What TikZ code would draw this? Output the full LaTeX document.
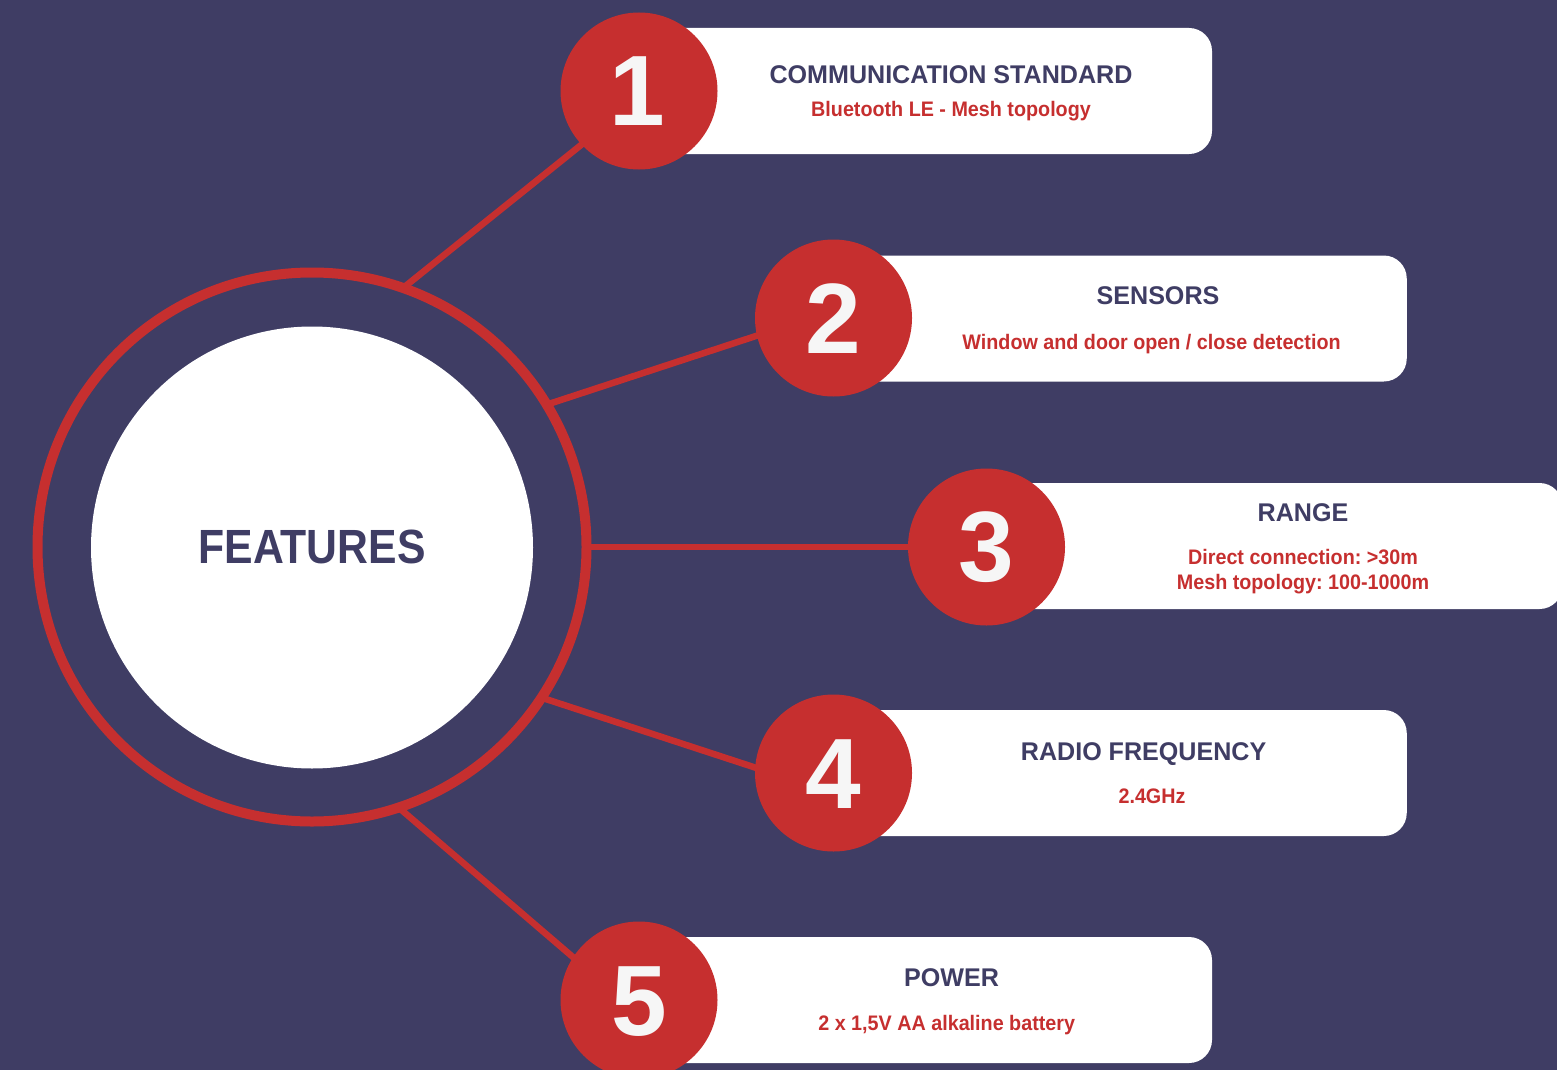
\documentclass[tikz,border=0pt]{standalone}
\usepackage{fontspec}
\setmainfont{Liberation Sans}
\newfontfamily\featfont[FakeStretch=0.89]{Liberation Sans}
\newfontfamily\titlefont[FakeStretch=0.98]{Liberation Sans}
\newfontfamily\subfont[FakeStretch=0.94]{Liberation Sans}
\newfontfamily\numfont{Liberation Sans}
\definecolor{bgc}{HTML}{3F3D64}
\definecolor{redc}{HTML}{C62F2F}
\definecolor{numc}{HTML}{F6F6F6}
\pgfdeclarelayer{back}
\pgfsetlayers{back,main}
\frenchspacing
\begin{document}
\begin{tikzpicture}[x=1pt,y=-1pt,
  numcirc/.style={circle, fill=redc, minimum size=157pt, inner sep=0pt},
  infobox/.style={rectangle, fill=white, rounded corners=23pt, minimum height=126pt, inner sep=0pt},
  numtext/.style={anchor=base, text=numc, font=\numfont\bfseries\fontsize{100}{100}\selectfont},
  ttl/.style={anchor=base, text=bgc, font=\titlefont\bfseries\fontsize{25.6}{30}\selectfont},
  subtxt/.style={anchor=base, text=redc, font=\subfont\bfseries\fontsize{21}{20}\selectfont},
  linkline/.style={draw=redc, line width=6.5pt, shorten <=-4pt, shorten >=-4pt}
]
\useasboundingbox (0,0) rectangle (1557,1070);
\begin{pgfonlayer}{back}
\fill[bgc] (0,0) rectangle (1557,1070);
\end{pgfonlayer}

% central rings
\node[circle, draw=redc, line width=10pt, minimum size=549pt, inner sep=0pt] (ring) at (312,547) {};
\node[circle, fill=white, minimum size=442pt, inner sep=0pt] (core) at (312,547.5) {};
\node[anchor=base, text=bgc, font=\featfont\bfseries\fontsize{48}{50}\selectfont] (feat) at (312,563) {FEATURES};

% boxes
\node[infobox, minimum width=573pt] (b1) at (925.5,91) {};
\node[infobox, minimum width=573pt] (b2) at (1120.25,318.5) {};
\node[infobox, minimum width=576pt] (b3) at (1274.5,546) {};
\node[infobox, minimum width=573pt] (b4) at (1120.25,773) {};
\node[infobox, minimum width=573pt] (b5) at (925.5,1000) {};

% number circles
\node[numcirc] (c1) at (639,91) {};
\node[numcirc] (c2) at (833.5,318) {};
\node[numcirc] (c3) at (986.5,547) {};
\node[numcirc] (c4) at (833.5,773) {};
\node[numcirc] (c5) at (639,1000) {};

\node[numtext] (n1) at (637,126) {1};
\node[numtext] (n2) at (833.5,353) {2};
\node[numtext] (n3) at (986.5,581) {3};
\node[numtext] (n4) at (833.5,808) {4};
\node[numtext] (n5) at (639,1035) {5};

% connectors
\begin{pgfonlayer}{back}
\draw[linkline] (ring.70) -- (c1.223);
\draw[linkline] (ring.31) -- (c2.193);
\draw[linkline] (ring.0) -- (c3.180);
\draw[linkline] (ring.-33) -- (c4.176);
\draw[linkline] (ring.-71) -- (c5.147);
\end{pgfonlayer}

% texts
\node[ttl] (t1) at (951,83.3) {COMMUNICATION STANDARD};
\node[subtxt] (s1) at (951,116.7) {Bluetooth LE - Mesh topology};
\node[ttl] (t2) at (1158,304) {SENSORS};
\node[subtxt] (s2) at (1151.5,349) {Window and door open / close detection};
\node[ttl] (t3) at (1303,521) {RANGE};
\node[subtxt] (s3a) at (1303,564.5) {Direct connection: >30m};
\node[subtxt] (s3b) at (1303,589) {Mesh topology: 100-1000m};
\node[ttl] (t4) at (1143.6,760) {RADIO FREQUENCY};
\node[subtxt] (s4) at (1152,803) {2.4GHz};
\node[ttl] (t5) at (951.6,986.7) {POWER};
\node[subtxt] (s5) at (946.7,1030) {2 x 1,5V AA alkaline battery};
\end{tikzpicture}
\end{document}
